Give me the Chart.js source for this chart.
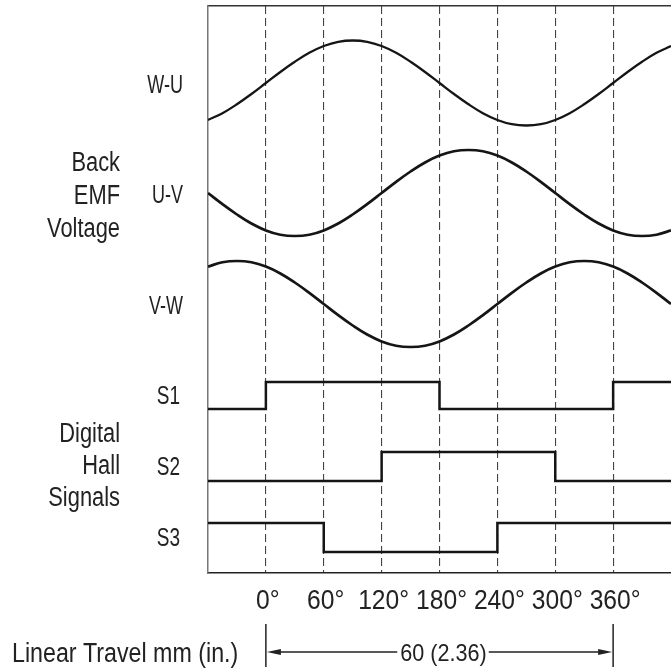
<!DOCTYPE html>
<html>
<head>
<meta charset="utf-8">
<script src="https://cdn.jsdelivr.net/npm/chart.js@4.4.1/dist/chart.umd.min.js"></script>
<style>
  html, body { margin: 0; padding: 0; background: #fff; }
  canvas { display: block; }
</style>
</head>
<body>
<canvas id="c" width="671" height="670"></canvas>
<script>
// ---- data ----
const angles = [-60,-45,-30,-15,0,15,30,45,60,75,90,105,120,135,150,165,180,195,210,225,240,255,270,285,300,315,330,345,360,375,390,405,420];
const wu = [-0.87,-0.71,-0.5,-0.26,0,0.26,0.5,0.71,0.87,0.97,1,0.97,0.87,0.71,0.5,0.26,0,-0.26,-0.5,-0.71,-0.87,-0.97,-1,-0.97,-0.87,-0.71,-0.5,-0.26,0,0.26,0.5,0.71,0.87];
const uv = [0,-0.26,-0.5,-0.71,-0.87,-0.97,-1,-0.97,-0.87,-0.71,-0.5,-0.26,0,0.26,0.5,0.71,0.87,0.97,1,0.97,0.87,0.71,0.5,0.26,0,-0.26,-0.5,-0.71,-0.87,-0.97,-1,-0.97,-0.87];
const vw = [0.87,0.97,1,0.97,0.87,0.71,0.5,0.26,0,-0.26,-0.5,-0.71,-0.87,-0.97,-1,-0.97,-0.87,-0.71,-0.5,-0.26,0,0.26,0.5,0.71,0.87,0.97,1,0.97,0.87,0.71,0.5,0.26,0];
const hallAngles = [-60,0,60,120,180,240,300,360,420];
const s1 = [0,1,1,1,0,0,0,1,1];
const s2 = [0,0,0,1,1,1,0,0,0];
const s3 = [1,1,0,0,0,1,1,1,1];
const tickValues = [0,60,120,180,240,300,360];
const waveNames = ['W-U','U-V','V-W'];
const hallNames = ['S1','S2','S3'];

// ---- layout of lanes (style / placement, not data) ----
const FONT = "'Liberation Sans','DejaVu Sans Condensed',sans-serif";
const waveLanes = [{c:490,a:42.5},{c:380,a:43},{c:269,a:43}];
const hallLanes = [{lo:164,h:27},{lo:92,h:29},{lo:21,h:29}];

function waveData(vals, lane){ return angles.map((x,i)=>({x, y: lane.c + lane.a*vals[i]})); }
function hallData(vals, lane){ return hallAngles.map((x,i)=>({x, y: lane.lo + lane.h*vals[i]})); }

const waves = [wu, uv, vw];
const halls = [s1, s2, s3];
const datasets = [];
waves.forEach((v,i)=>datasets.push({label:waveNames[i], data:waveData(v,waveLanes[i]), borderColor:'#151515', borderWidth: i===0?2.3:2.7, pointRadius:0, tension:0.4, fill:false}));
halls.forEach((v,i)=>datasets.push({label:hallNames[i], data:hallData(v,hallLanes[i]), borderColor:'#151515', borderWidth:2.5, pointRadius:0, stepped:true, fill:false}));

function txt(ctx, s, x, y, align, size, sx){
  ctx.save();
  ctx.font = size + 'px ' + FONT;
  ctx.textAlign = align;
  ctx.translate(x, y);
  ctx.scale(sx, 1);
  ctx.fillText(s, 0, 0);
  ctx.restore();
}

const annot = {
  id:'annot',
  afterDraw(chart){
    const ctx = chart.ctx;
    const x = chart.scales.x, y = chart.scales.y;
    ctx.save();
    ctx.fillStyle = '#222';
    ctx.textBaseline = 'alphabetic';
    // lane labels
    waveLanes.forEach((l,i)=>txt(ctx, waveNames[i], 183, y.getPixelForValue(l.c)+9.5, 'right', 25, 0.72));
    hallLanes.forEach((l,i)=>txt(ctx, hallNames[i], 180, y.getPixelForValue(l.lo + l.h/2)+8.5, 'right', 25, 0.76));
    // group labels
    ['Back','EMF','Voltage'].forEach((t,i)=>txt(ctx, t, 120, 171 + i*33, 'right', 27, 0.81));
    ['Digital','Hall','Signals'].forEach((t,i)=>txt(ctx, t, 120, 442 + i*32, 'right', 27, 0.81));
    // tick labels from the x scale
    x.ticks.forEach(t=>{
      txt(ctx, t.value + '°', x.getPixelForValue(t.value) + 2, 609, 'center', 28, 0.88);
    });
    // dimension line
    const x0 = x.getPixelForValue(0), x1 = x.getPixelForValue(360);
    txt(ctx, 'Linear Travel mm (in.)', 12, 662, 'left', 27, 0.86);
    ctx.strokeStyle = '#222';
    ctx.lineWidth = 1.5;
    ctx.beginPath();
    ctx.moveTo(x0, 624); ctx.lineTo(x0, 667);
    ctx.moveTo(x1, 624); ctx.lineTo(x1, 667);
    ctx.stroke();
    const ly = 652;
    const label = '60 (2.36)';
    ctx.font = '24px ' + FONT;
    const w = ctx.measureText(label).width * 0.9;
    const mid = (x0 + x1)/2 + 4;
    txt(ctx, label, mid, ly + 8.5, 'center', 24, 0.9);
    ctx.lineWidth = 1.3;
    ctx.beginPath();
    ctx.moveTo(x0 + 10, ly); ctx.lineTo(mid - w/2 - 3, ly);
    ctx.moveTo(mid + w/2 + 2, ly); ctx.lineTo(x1 - 10, ly);
    ctx.stroke();
    ctx.beginPath();
    ctx.moveTo(x0 + 1, ly); ctx.lineTo(x0 + 15, ly - 3); ctx.lineTo(x0 + 15, ly + 3); ctx.closePath();
    ctx.moveTo(x1 - 1, ly); ctx.lineTo(x1 - 15, ly - 3); ctx.lineTo(x1 - 15, ly + 3); ctx.closePath();
    ctx.fill();
    ctx.restore();
  }
};

new Chart(document.getElementById('c'), {
  type:'line',
  data:{ datasets },
  options:{
    responsive:false,
    animation:false,
    devicePixelRatio:1,
    layout:{ padding:{ left:0, right:0, top:6, bottom:0 } },
    plugins:{ legend:{display:false}, tooltip:{enabled:false} },
    scales:{
      x:{
        type:'linear', position:'bottom', min:-60, max:420,
        afterBuildTicks:(s)=>{ s.ticks = tickValues.map(v=>({value:v})); },
        afterFit:(s)=>{ s.height = 97; },
        grid:{ drawOnChartArea:true, drawTicks:false, color:'#444', lineWidth:1.1 },
        border:{ display:true, color:'#222', width:1.5, dash:[8,4] },
        ticks:{ display:false }
      },
      xTop:{
        type:'linear', position:'top', min:-60, max:420,
        afterFit:(s)=>{ s.height = 0; },
        grid:{ drawOnChartArea:false, drawTicks:false },
        border:{ display:true, color:'#333', width:1.5 },
        ticks:{ display:false }
      },
      y:{
        type:'linear', position:'left', min:0, max:567,
        afterFit:(s)=>{ s.width = 208; },
        grid:{ drawOnChartArea:false, drawTicks:false },
        border:{ display:true, color:'#777', width:1.5 },
        ticks:{ display:false }
      }
    }
  },
  plugins:[annot]
});
</script>
</body>
</html>
